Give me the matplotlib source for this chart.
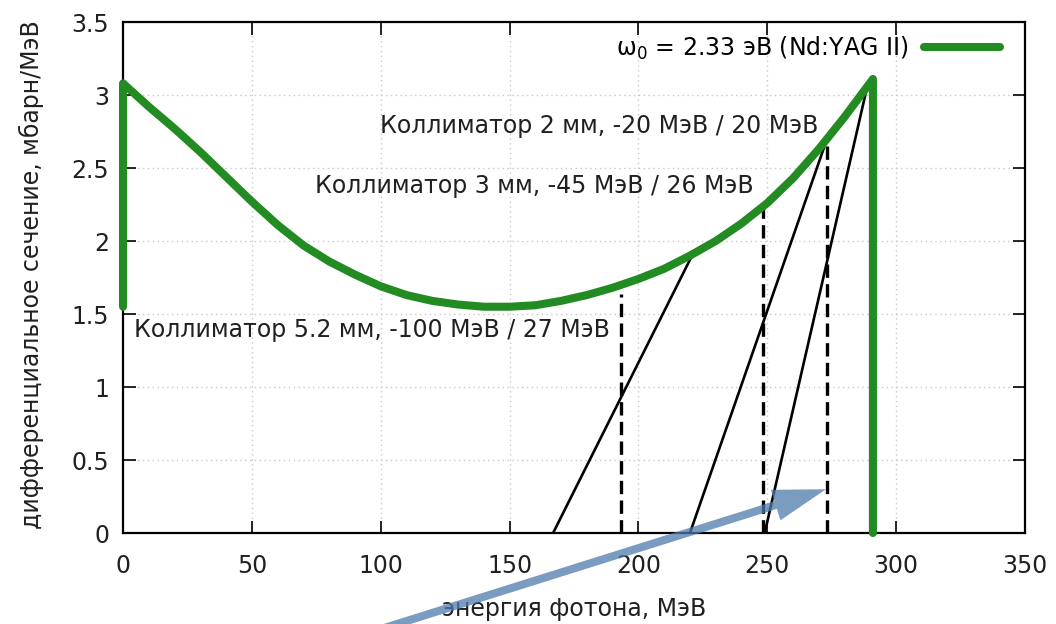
import matplotlib
matplotlib.use("Agg")
import matplotlib.pyplot as plt
from matplotlib.ticker import FuncFormatter

plt.rcParams['font.family'] = ['DejaVu Sans']
plt.rcParams['font.size'] = 17

# green curve, with the vertical edges at both ends
curve_x = [0, 0, 10, 20, 30, 40, 50, 60, 70, 80, 90, 100, 110, 120, 130, 140, 150,
           160, 170, 180, 190, 200, 210, 220, 230, 240, 250, 260, 270, 280, 291, 291]
curve_y = [1.55, 3.08, 2.92, 2.77, 2.61, 2.44, 2.27, 2.11, 1.97, 1.86, 1.77, 1.69, 1.63,
           1.59, 1.565, 1.55, 1.55, 1.56, 1.59, 1.63, 1.68, 1.74, 1.81, 1.90, 2.00,
           2.12, 2.26, 2.43, 2.63, 2.85, 3.11, 0.0]
legend_label = 'ω$_0$ = 2.33 эВ (Nd:YAG II)'

# solid black slopes: (x0, y0) -> (x1, y1)
slope_x = [(166.9, 220.8), (220.0, 273.0), (249.0, 288.3)]
slope_y = [(0.0, 1.90), (0.0, 2.69), (0.0, 3.02)]

# dashed verticals
dash_x = [193.2, 248.4, 273.2]
dash_top = [1.64, 2.25, 2.68]

# collimator labels (right edge x, y)
labels = ['Коллиматор 2 мм, -20 МэВ / 20 МэВ',
          'Коллиматор 3 мм, -45 МэВ / 26 МэВ',
          'Коллиматор 5.2 мм, -100 МэВ / 27 МэВ']
label_x = [269.7, 244.9, 189.0]
label_y = [2.79, 2.38, 1.39]

# arrow from below the plot to the tip
arrow_tail = (99.7, -0.66)
arrow_tip = (272.8, 0.30)

xticks = [0, 50, 100, 150, 200, 250, 300, 350]
yticks = [0, 0.5, 1, 1.5, 2, 2.5, 3, 3.5]

fig = plt.figure(figsize=(10.56, 6.24), dpi=100)
ax = fig.add_axes([0.1165, 0.1458, 0.8541, 0.8189])

ax.grid(True, linestyle=(0, (1, 2.5)), color='#c8c8c8', linewidth=1)
ax.set_axisbelow(True)

for (x0, x1), (y0, y1) in zip(slope_x, slope_y):
    ax.plot([x0, x1], [y0, y1], color='black', lw=1.9, zorder=3)

for x, top in zip(dash_x, dash_top):
    ax.plot([x, x], [0, top], color='black', lw=2.4, dashes=(4, 1.9), zorder=3)

ax.plot(curve_x, curve_y, color='#228b22', lw=5.8, solid_capstyle='round',
        solid_joinstyle='round', clip_on=False, zorder=4, label=legend_label)

for txt, x, y in zip(labels, label_x, label_y):
    ax.text(x, y, txt, ha='right', va='center', color='#202020', fontsize=17, zorder=5)

ax.annotate('', xy=arrow_tip, xytext=arrow_tail, xycoords='data', textcoords='data',
            annotation_clip=False, zorder=6,
            arrowprops=dict(width=5.8, headwidth=23, headlength=38, shrink=0,
                            facecolor='#4e7bab', edgecolor='none', alpha=0.75))

ax.set_xlim(0, 350)
ax.set_ylim(0, 3.5)
ax.set_xticks(xticks)
ax.set_yticks(yticks)
ax.yaxis.set_major_formatter(FuncFormatter(lambda v, p: '%g' % v))
ax.tick_params(direction='in', top=True, right=True, length=9, width=1.2,
               labelsize=17, labelcolor='#202020')
ax.tick_params(axis='x', pad=15)
ax.tick_params(axis='y', pad=10)
for s in ax.spines.values():
    s.set_linewidth(1.6)

ax.set_xlabel('энергия фотона, МэВ', color='#202020', fontsize=17)
ax.xaxis.set_label_coords(0.5, -0.125)
ax.set_ylabel('дифференциальное сечение, мбарн/МэВ', color='#202020', fontsize=17)
ax.yaxis.set_label_coords(-0.088, 0.505)

ax.legend(loc='center right', bbox_to_anchor=(0.972, 0.949), frameon=False,
          markerfirst=False, handlelength=3.2, handletextpad=0.66,
          borderpad=0, borderaxespad=0, fontsize=17)

fig.savefig('out.png', dpi=100)
